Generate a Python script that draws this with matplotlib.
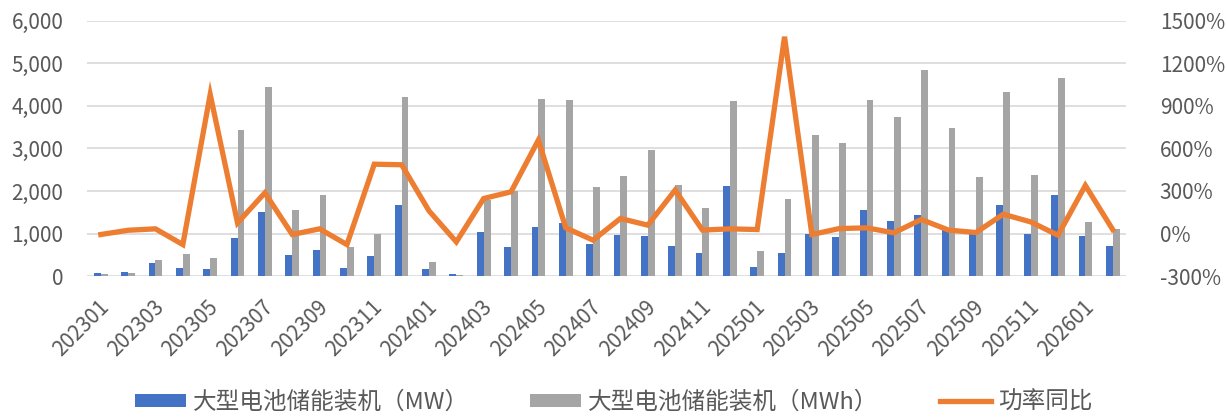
import numpy as np
import matplotlib
matplotlib.use('Agg')
import matplotlib.pyplot as plt
import matplotlib.transforms as mtransforms
from matplotlib.ticker import FuncFormatter

plt.rcParams['font.family'] = ['Noto Sans CJK SC', 'DejaVu Sans']

months = ['202301', '202302', '202303', '202304', '202305', '202306', '202307',
          '202308', '202309', '202310', '202311', '202312', '202401', '202402',
          '202403', '202404', '202405', '202406', '202407', '202408', '202409',
          '202410', '202411', '202412', '202501', '202502', '202503', '202504',
          '202505', '202506', '202507', '202508', '202509', '202510', '202511',
          '202512', '202601', '202602']
power_mw = [70, 85, 306, 180, 157, 902, 1506, 486, 604, 180, 471, 1678, 173, 40,
            1043, 682, 1145, 1239, 745, 957, 941, 714, 549, 2125, 212, 533,
            980, 918, 1545, 1286, 1443, 1075, 1035, 1663, 996, 1898, 933, 698]
energy_mwh = [40, 80, 376, 525, 431, 3427, 4439, 1545, 1898, 682, 988, 4212, 337, 30,
              1780, 2010, 4173, 4133, 2094, 2353, 2957, 2149, 1608, 4110, 588, 1820,
              3325, 3129, 4133, 3741, 4839, 3475, 2329, 4329, 2369, 4667, 1271, 1098]
yoy_pct = [-7, 23, 33, -78, 981, 75, 287, -7, 33, -78, 489, 485, 160, -59,
           247, 294, 659, 40, -47, 106, 59, 306, 24, 33, 28, 1388,
           -7, 35, 40, 5, 99, 24, 7, 136, 82, -12, 339, 28]

blue = '#4472C4'
gray = '#A5A5A5'
orange = '#ED7D31'
text_c = '#595959'

fig = plt.figure(figsize=(12.27, 4.17), dpi=100)
ax = fig.add_axes([0.071, 0.338, 0.847, 0.612])
ax2 = ax.twinx()

x = np.arange(len(months))
w = 0.25
b1 = ax.bar(x - w / 2, power_mw, width=w, color=blue, zorder=2,
            label='大型电池储能装机（MW）')
b2 = ax.bar(x + w / 2, energy_mwh, width=w, color=gray, zorder=2,
            label='大型电池储能装机（MWh）')
ln, = ax2.plot(x, yoy_pct, color=orange, lw=3.8, solid_joinstyle='miter',
               label='功率同比')

ax.set_xlim(-0.5, len(months) - 0.5)
ax.set_ylim(0, 6000)
ax.set_yticks(np.arange(0, 6001, 1000))
ax.yaxis.set_major_formatter(FuncFormatter(lambda v, p: f'{v:,.0f}'))
ax2.set_ylim(-300, 1500)
ax2.set_yticks(np.arange(-300, 1501, 300))
ax2.yaxis.set_major_formatter(FuncFormatter(lambda v, p: f'{v:.0f}%'))

ax.grid(axis='y', color='#D9D9D9', lw=1.2, zorder=0)
ax.set_axisbelow(True)
for a in (ax, ax2):
    for s in a.spines.values():
        s.set_visible(False)
    a.tick_params(length=0, labelsize=15, colors=text_c)

ax.set_xticks(x[::2])
ax.set_xticklabels(months[::2], rotation=45, ha='right', va='center',
                   rotation_mode='anchor')
ax.tick_params(axis='x', pad=20)
shift = mtransforms.ScaledTranslation(5 / 100, 0, fig.dpi_scale_trans)
for lab in ax.get_xticklabels():
    lab.set_transform(lab.get_transform() + shift)
ax.tick_params(axis='y', pad=17)
ax2.tick_params(axis='y', pad=24)

leg = fig.legend([b1, b2, ln], [b1.get_label(), b2.get_label(), ln.get_label()],
                 loc='center', bbox_to_anchor=(0.5, 0.036), ncol=3, frameon=False,
                 fontsize=17, handlelength=2.15, handleheight=0.47,
                 columnspacing=2.6, handletextpad=0.3)
for t in leg.get_texts():
    t.set_color(text_c)

fig.savefig('out.png', dpi=100)
